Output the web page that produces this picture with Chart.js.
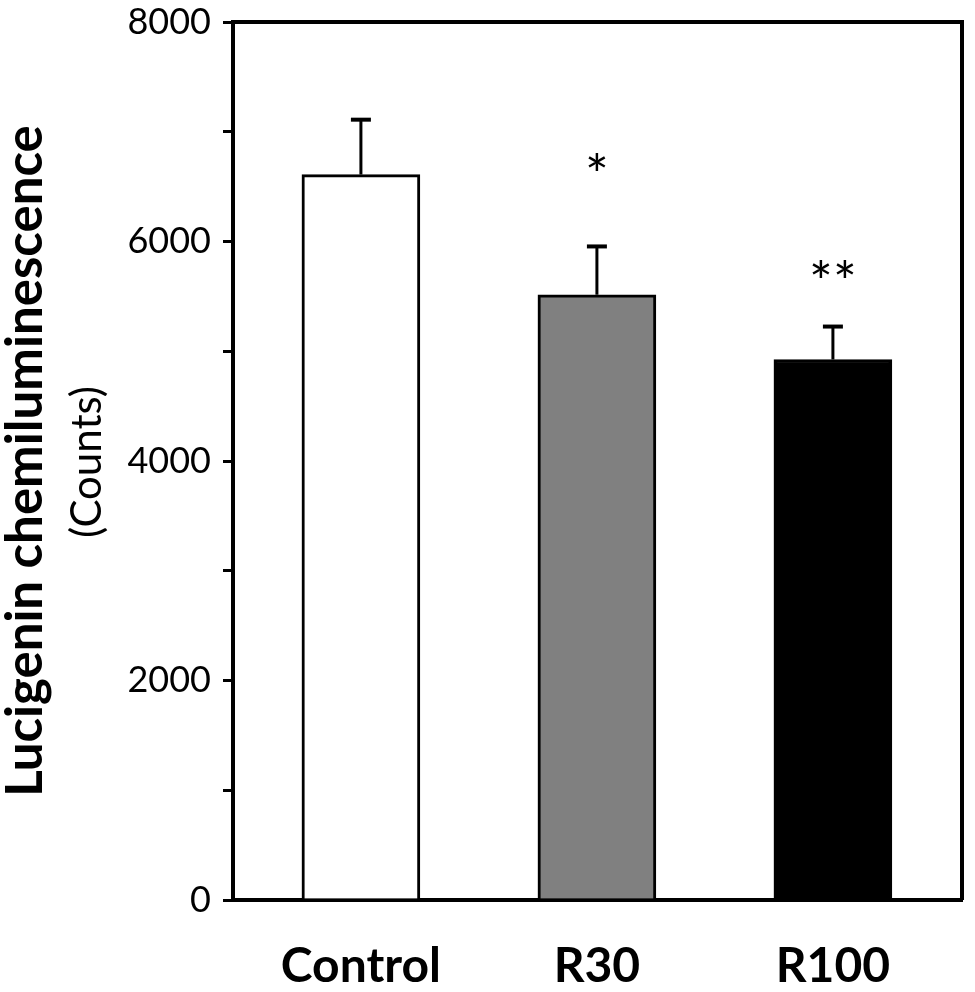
<!DOCTYPE html>
<html>
<head>
<meta charset="utf-8">
<script src="https://cdn.jsdelivr.net/npm/chart.js@4.4.1/dist/chart.umd.min.js"></script>
<style>
  body { margin: 0; background: #fff; }
  #chart { display: block; }
</style>
</head>
<body>
<canvas id="chart" width="975" height="992"></canvas>
<script>
// data
const categories = ['Control', 'R30', 'R100'];
const means = [6610, 5515, 4925];
const sems = [500, 440, 300];
const stars = ['', '*', '**'];
const starLevels = [null, 6720, 5745];
const barColors = ['#ffffff', '#808080', '#000000'];
const yTicks = [0, 1000, 2000, 3000, 4000, 5000, 6000, 7000, 8000];

// error bars, stars, box and sub title
const extras = {
    id: 'extras',
    afterDatasetsDraw(chart) {
        const ctx = chart.ctx;
        const x = chart.scales.x;
        const y = chart.scales.y;
        const area = chart.chartArea;
        ctx.save();
        ctx.strokeStyle = '#000';
        ctx.fillStyle = '#000';
        means.forEach(function(m, i) {
            const px = x.getPixelForValue(i + 1);
            const y0 = y.getPixelForValue(m);
            const y1 = y.getPixelForValue(m + sems[i]);
            ctx.lineWidth = 3;
            ctx.beginPath();
            ctx.moveTo(px, y0);
            ctx.lineTo(px, y1);
            ctx.stroke();
            ctx.lineWidth = 4;
            ctx.beginPath();
            ctx.moveTo(px - 10, y1);
            ctx.lineTo(px + 10, y1);
            ctx.stroke();
            if (stars[i]) {
                ctx.font = '56px Lato';
                ctx.textAlign = 'center';
                ctx.textBaseline = 'middle';
                ctx.fillText(stars[i], px, y.getPixelForValue(starLevels[i]) + 14);
            }
        });
        // top and right frame
        ctx.lineWidth = 4;
        ctx.beginPath();
        ctx.moveTo(area.left, area.top);
        ctx.lineTo(area.right, area.top);
        ctx.lineTo(area.right, area.bottom);
        ctx.stroke();
        // second line of the axis title
        ctx.translate(87, 462);
        ctx.rotate(-Math.PI / 2);
        ctx.font = '42px Lato';
        ctx.textAlign = 'center';
        ctx.textBaseline = 'middle';
        ctx.fillText('(Counts)', 0, 0);
        ctx.restore();
    }
};

const chart = new Chart(document.getElementById('chart'), {
    type: 'bar',
    data: {
        datasets: [{
            data: means.map((m, i) => ({ x: i + 1, y: m })),
            backgroundColor: barColors,
            borderColor: '#000',
            borderWidth: 3,
            borderSkipped: 'bottom',
            barThickness: 118
        }]
    },
    options: {
        responsive: false,
        devicePixelRatio: 1,
        animation: false,
        layout: { padding: { top: 22, right: 13, left: 0, bottom: 0 } },
        plugins: {
            legend: { display: false },
            tooltip: { enabled: false }
        },
        scales: {
            x: {
                type: 'linear',
                offset: false,
                min: 0.458,
                max: 3.547,
                afterBuildTicks: function(scale) {
                    scale.ticks = categories.map((c, i) => ({ value: i + 1 }));
                },
                afterFit: function(scale) { scale.height = 92; },
                grid: { display: false },
                border: { color: '#000', width: 4 },
                ticks: {
                    color: '#000',
                    padding: 30,
                    font: { family: 'Lato', size: 48, weight: 'bold' },
                    callback: function(v) { return categories[v - 1] || ''; }
                }
            },
            y: {
                min: 0,
                max: 8000,
                afterBuildTicks: function(scale) {
                    scale.ticks = yTicks.map(v => ({ value: v }));
                },
                afterFit: function(scale) {
                    scale.width = 233;
                    scale.paddingTop = 0;
                    scale.paddingBottom = 0;
                },
                grid: {
                    drawOnChartArea: false,
                    color: '#000',
                    lineWidth: 3,
                    tickLength: 10
                },
                border: { color: '#000', width: 4 },
                ticks: {
                    color: '#000',
                    padding: 12,
                    font: { family: 'Lato', size: 36 },
                    callback: function(v) { return v % 2000 === 0 ? String(v) : ''; }
                },
                title: {
                    display: true,
                    text: 'Lucigenin chemiluminescence',
                    color: '#000',
                    padding: { top: 0, bottom: 0 },
                    font: { family: 'Lato', size: 51, weight: 'bold', lineHeight: 1.0 }
                }
            }
        }
    },
    plugins: [extras]
});
</script>
</body>
</html>
